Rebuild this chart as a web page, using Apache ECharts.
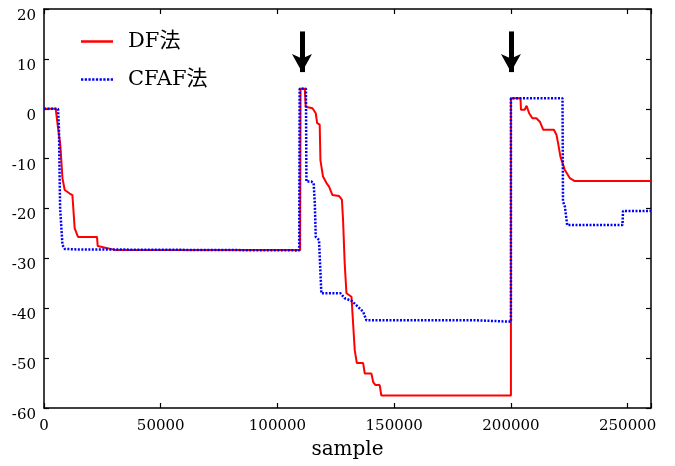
<!DOCTYPE html>
<html>
<head>
<meta charset="utf-8">
<script src="https://cdn.jsdelivr.net/npm/echarts@6/dist/echarts.min.js"></script>
<style>
html,body{margin:0;padding:0;background:#fff;}
#chart{width:675px;height:466px;}
</style>
</head>
<body>
<div id="chart"></div>
<script>
// ---- data ----
var seriesNames = ['DF法', 'CFAF法'];
var xTicks = [0, 50000, 100000, 150000, 200000, 250000];
var yTicks = [-60, -50, -40, -30, -20, -10, 0, 10, 20];
var arrowSamples = [110500, 200000];
var arrowFrom = 15.5;
var arrowTo = 7.35;

var dfSample = [0, 5000, 6000, 7000, 7900, 8870, 11000, 12160, 13150, 14570, 22700, 23000, 26700, 30300,
  109700, 109900, 111700, 112100, 115000, 116400, 117000, 118100, 118400, 119500, 121000, 122100, 123550,
  126400, 127600, 128100, 128800, 129550, 131700, 133100, 134000, 136700, 137400, 140250, 141000, 142000,
  143800, 144500, 200000, 200000, 204100, 204300, 205900, 206700, 207800, 209200, 210900, 211600, 212400,
  213800, 218400, 219500, 220200, 221200, 223100, 225200, 227350, 260000];
var dfValue = [0, 0, -3.8, -7.3, -13.9, -16.3, -17.0, -17.3, -24.0, -25.7, -25.7, -27.5, -27.9, -28.3,
  -28.3, 4.0, 4.0, 0.4, 0.1, -0.9, -2.9, -3.2, -10.3, -13.6, -14.9, -15.6, -17.3,
  -17.5, -18.2, -22.3, -31.0, -37.0, -37.7, -48.4, -51.0, -51.0, -53.1, -53.1, -54.8, -55.4,
  -55.4, -57.5, -57.5, 2.1, 2.1, -0.2, -0.2, 0.6, -0.9, -1.9, -1.9, -1.6, -2.6,
  -4.2, -4.2, -5.2, -6.9, -9.6, -12.3, -13.9, -14.5, -14.5];

var cfafSample = [0, 6000, 6400, 6700, 6900, 7450, 7900, 8870, 13900, 14500, 109300, 109500, 112200, 112400,
  114500, 115500, 116000, 116400, 117800, 118800, 127000, 128800, 131700, 133800, 136700, 138100,
  184500, 184700, 200000, 200000, 222100, 222300, 223100, 224100, 247800, 248000, 260000];
var cfafValue = [0, 0, -3.8, -13.9, -19.9, -20.3, -27.3, -28.1, -28.2, -28.4, -28.4, 4.0, 4.0, -14.6,
  -14.6, -14.9, -19.0, -25.7, -26.3, -37.0, -37.0, -38.0, -38.5, -39.4, -40.7, -42.4,
  -42.4, -42.7, -42.7, 2.1, 2.1, -18.6, -19.6, -23.3, -23.3, -20.5, -20.5];

function zip(a, b) { return a.map(function (v, i) { return [v, b[i]]; }); }

var serif = "'DejaVu Serif', 'Liberation Serif', 'Noto Sans CJK JP', serif";
var axisLineStyle = { color: '#000', width: 1.5 };

// legend icons: solid bar and dotted bar (32 x 2.5)
var dotPath = 'path://';
for (var i = 0; i < 9; i++) { dotPath += 'M' + (i * 3.6) + ',0h2.2v2.5h-2.2z'; }
var solidPath = 'path://M0,0h32v2h-32z';

function xAxisCfg(pos, showLabel) {
  return {
    type: 'value', position: pos, min: xTicks[0], max: 260000, interval: xTicks[1] - xTicks[0],
    axisLine: { show: true, onZero: false, lineStyle: axisLineStyle },
    axisTick: { show: true, inside: true, length: 5, lineStyle: { color: '#000', width: 1.2 } },
    splitLine: { show: false },
    axisLabel: {
      show: showLabel, color: '#000', fontFamily: serif, fontSize: 15, margin: 11,
      formatter: function (v) { return xTicks.indexOf(v) >= 0 ? String(v) : ''; }
    },
    name: showLabel ? 'sample' : '', nameLocation: 'middle', nameGap: 32,
    nameTextStyle: { color: '#000', fontFamily: serif, fontSize: 20 }
  };
}
function yAxisCfg(pos, showLabel) {
  return {
    type: 'value', position: pos, min: yTicks[0], max: yTicks[yTicks.length - 1], interval: yTicks[1] - yTicks[0],
    axisLine: { show: true, onZero: false, lineStyle: axisLineStyle },
    axisTick: { show: true, inside: true, length: 5, lineStyle: { color: '#000', width: 1.2 } },
    splitLine: { show: false },
    axisLabel: { show: showLabel, color: '#000', fontFamily: serif, fontSize: 15, margin: 8,
      verticalAlign: 'top', lineHeight: 14 }
  };
}

var chart = echarts.init(document.getElementById('chart'), null, { renderer: 'canvas' });
chart.setOption({
  backgroundColor: '#fff',
  animation: false,
  grid: { left: 44, right: 24, top: 9, bottom: 58, containLabel: false },
  legend: {
    orient: 'vertical', left: 81, top: 31, padding: 0, itemGap: 17,
    itemWidth: 32, itemHeight: 2.5, symbolKeepAspect: false,
    textStyle: { color: '#000', fontFamily: serif, fontSize: 21, padding: [0, 0, 0, 10] },
    data: [
      { name: seriesNames[0], icon: solidPath, itemStyle: { color: '#ff0000' } },
      { name: seriesNames[1], icon: dotPath, itemStyle: { color: '#0000ff' } }
    ]
  },
  xAxis: [xAxisCfg('bottom', true), xAxisCfg('top', false)],
  yAxis: [yAxisCfg('left', true), yAxisCfg('right', false)],
  series: [
    {
      name: seriesNames[0], type: 'line', symbol: 'none', showSymbol: false,
      data: zip(dfSample, dfValue),
      lineStyle: { color: '#ff0000', width: 2 }, itemStyle: { color: '#ff0000' },
      z: 3,
      markLine: {
        silent: true, symbol: ['none', 'arrow'], symbolSize: [15, 18],
        label: { show: false },
        lineStyle: { color: '#000', width: 5, type: 'solid' },
        itemStyle: { color: '#000' },
        emphasis: { disabled: true },
        data: arrowSamples.map(function (s) {
          return [{ coord: [s, arrowFrom] }, { coord: [s, arrowTo] }];
        })
      }
    },
    {
      name: seriesNames[1], type: 'line', symbol: 'none', showSymbol: false,
      data: zip(cfafSample, cfafValue),
      lineStyle: { color: '#0000ff', width: 2.5, type: [2, 1.5] }, itemStyle: { color: '#0000ff' },
      z: 4
    }
  ]
});
</script>
</body>
</html>
